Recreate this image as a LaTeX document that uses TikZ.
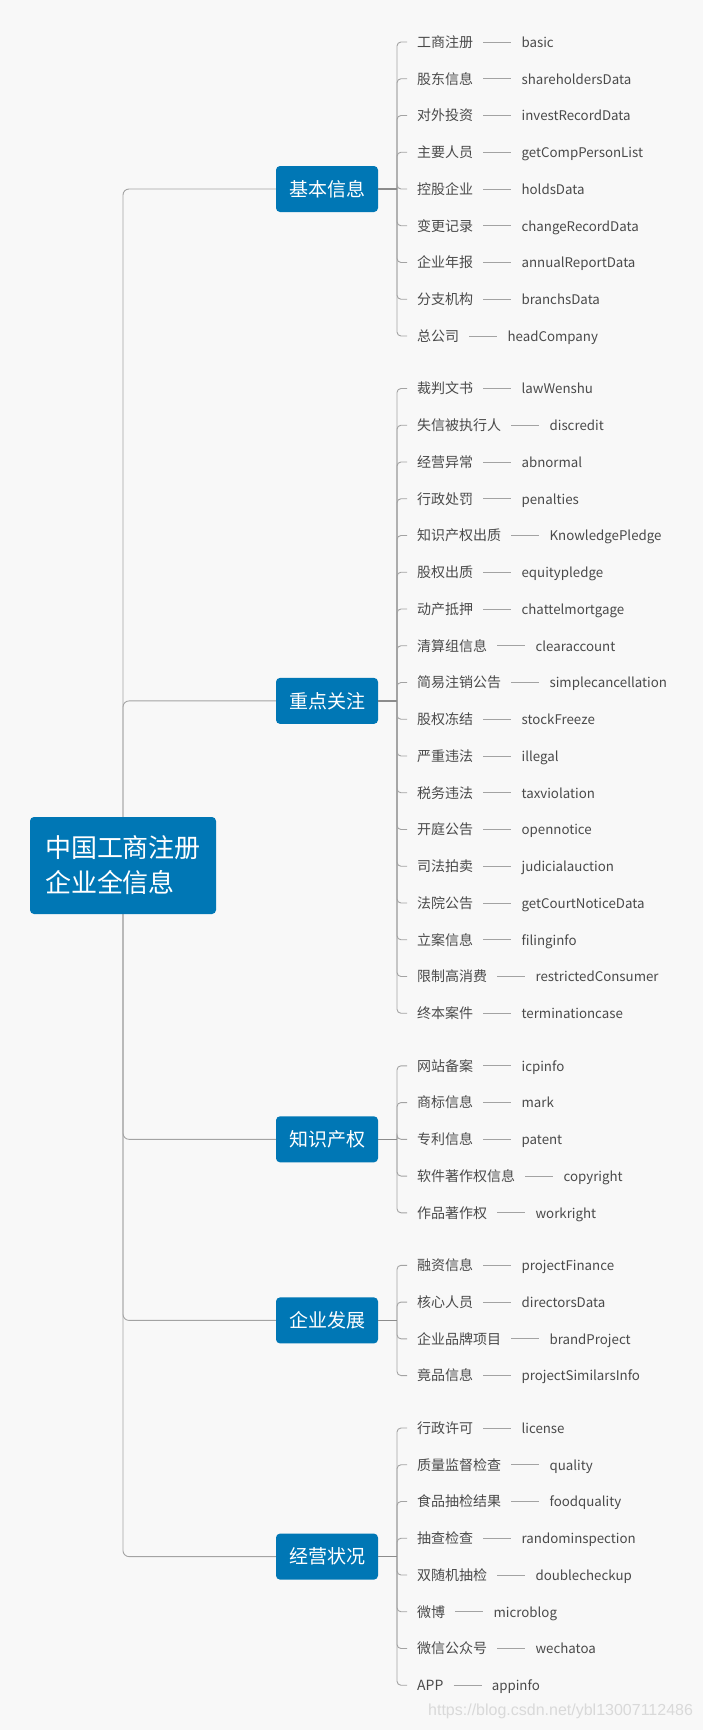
\documentclass[tikz,border=0pt]{standalone}
\usepackage{fontspec}
\setmainfont{Noto Sans CJK SC}
\newfontfamily\markfont{Liberation Sans}
\usetikzlibrary{positioning}
\definecolor{boxblue}{HTML}{0077B5}
\definecolor{linegray}{HTML}{A3A3A3}
\definecolor{linkgray}{HTML}{8C8C8C}
\definecolor{leaftext}{HTML}{4A4A4A}
\definecolor{pagebg}{HTML}{F8F8F8}

\begin{document}
\begin{tikzpicture}[x=1pt, y=-1pt]
  \tikzstyle{root}=[rectangle, rounded corners=4pt, fill=boxblue, text=white, align=left, inner sep=0pt, minimum width=186pt, minimum height=97pt, font=\fontsize{26}{35}\selectfont]
  \tikzstyle{topic}=[rectangle, rounded corners=4pt, fill=boxblue, text=white, inner sep=0pt, minimum width=102pt, minimum height=46pt, text height=16.7pt, text depth=2.3pt, font=\fontsize{19}{22}\selectfont]
  \tikzstyle{leaf}=[anchor=west, inner xsep=10pt, inner ysep=0pt, text=leaftext, text height=12.5pt, text depth=2pt, font=\fontsize{14}{16}\selectfont]
  \tikzstyle{api}=[leaf, font=\fontsize{13.3}{16}\selectfont]
  \tikzstyle{line}=[draw=linegray, line width=0.9pt]
  \tikzstyle{link}=[draw=linkgray, line width=1.6pt]

  \fill[pagebg] (0,0) rectangle (703,1730);
  \useasboundingbox (0,0) rectangle (703,1730);

  % topics
  \node[topic] (jiben) at (327,189) {基本信息};
  \node[topic] (zhongdian) at (327,700.9) {重点关注};
  \node[topic] (zhishi) at (327,1139.3) {知识产权};
  \node[topic] (fazhan) at (327,1320.4) {企业发展};
  \node[topic] (jingying) at (327,1556.6) {经营状况};

  % 基本信息
  \coordinate (jiben-brk) at (397,189);
  \foreach \zh/\api [count=\i] in {工商注册/basic, 股东信息/shareholdersData, 对外投资/investRecordData, 主要人员/getCompPersonList, 控股企业/holdsData, 变更记录/changeRecordData, 企业年报/annualReportData, 分支机构/branchsData, 总公司/headCompany} {
    \node[leaf] (jiben-\i) at (407,{42+(\i-1)*36.75}) {\zh};
    \node[api, right=28pt of jiben-\i] (jiben-\i-api) {\api};
    \draw[line] (jiben-\i.east) -- (jiben-\i-api.west);
    \draw[line, rounded corners=4pt] (jiben-brk) |- (jiben-\i.west);
  }
  \draw[link] (jiben.east) -- (jiben-brk);

  % 重点关注
  \coordinate (zhongdian-brk) at (397,700.9);
  \foreach \zh/\api [count=\i] in {裁判文书/lawWenshu, 失信被执行人/discredit, 经营异常/abnormal, 行政处罚/penalties, 知识产权出质/KnowledgePledge, 股权出质/equitypledge, 动产抵押/chattelmortgage, 清算组信息/clearaccount, 简易注销公告/simplecancellation, 股权冻结/stockFreeze, 严重违法/illegal, 税务违法/taxviolation, 开庭公告/opennotice, 司法拍卖/judicialauction, 法院公告/getCourtNoticeData, 立案信息/filinginfo, 限制高消费/restrictedConsumer, 终本案件/terminationcase} {
    \node[leaf] (zhongdian-\i) at (407,{388.5+(\i-1)*36.75}) {\zh};
    \node[api, right=28pt of zhongdian-\i] (zhongdian-\i-api) {\api};
    \draw[line] (zhongdian-\i.east) -- (zhongdian-\i-api.west);
    \draw[line, rounded corners=4pt] (zhongdian-brk) |- (zhongdian-\i.west);
  }
  \draw[link] (zhongdian.east) -- (zhongdian-brk);

  % 知识产权
  \coordinate (zhishi-brk) at (397,1139.3);
  \foreach \zh/\api [count=\i] in {网站备案/icpinfo, 商标信息/mark, 专利信息/patent, 软件著作权信息/copyright, 作品著作权/workright} {
    \node[leaf] (zhishi-\i) at (407,{1065.8+(\i-1)*36.75}) {\zh};
    \node[api, right=28pt of zhishi-\i] (zhishi-\i-api) {\api};
    \draw[line] (zhishi-\i.east) -- (zhishi-\i-api.west);
    \draw[line, rounded corners=4pt] (zhishi-brk) |- (zhishi-\i.west);
  }
  \draw[link] (zhishi.east) -- (zhishi-brk);

  % 企业发展
  \coordinate (fazhan-brk) at (397,1320.4);
  \foreach \zh/\api [count=\i] in {融资信息/projectFinance, 核心人员/directorsData, 企业品牌项目/brandProject, 竟品信息/projectSimilarsInfo} {
    \node[leaf] (fazhan-\i) at (407,{1265.3+(\i-1)*36.75}) {\zh};
    \node[api, right=28pt of fazhan-\i] (fazhan-\i-api) {\api};
    \draw[line] (fazhan-\i.east) -- (fazhan-\i-api.west);
    \draw[line, rounded corners=4pt] (fazhan-brk) |- (fazhan-\i.west);
  }
  \draw[link] (fazhan.east) -- (fazhan-brk);

  % 经营状况
  \coordinate (jingying-brk) at (397,1556.6);
  \foreach \zh/\api [count=\i] in {行政许可/license, 质量监督检查/quality, 食品抽检结果/foodquality, 抽查检查/randominspection, 双随机抽检/doublecheckup, 微博/microblog, 微信公众号/wechatoa, APP/appinfo} {
    \node[leaf] (jingying-\i) at (407,{1428+(\i-1)*36.75}) {\zh};
    \node[api, right=28pt of jingying-\i] (jingying-\i-api) {\api};
    \draw[line] (jingying-\i.east) -- (jingying-\i-api.west);
    \draw[line, rounded corners=4pt] (jingying-brk) |- (jingying-\i.west);
  }
  \draw[link] (jingying.east) -- (jingying-brk);

  % trunk, root box on top
  \coordinate (rootc) at (123,865.5);
  \draw[line, rounded corners=6pt] (rootc) |- (jiben.west);
  \draw[line, rounded corners=6pt] (rootc) |- (zhongdian.west);
  \draw[line, rounded corners=6pt] (rootc) |- (zhishi.west);
  \draw[line, rounded corners=6pt] (rootc) |- (fazhan.west);
  \draw[line, rounded corners=6pt] (rootc) |- (jingying.west);
  \node[root] (root) at (rootc) {中国工商注册\\企业全信息};

  \node[anchor=west, inner sep=0pt, text=gray!30, font=\markfont\fontsize{16}{18}\selectfont] (watermark) at (428,1711) {https://blog.csdn.net/ybl13007112486};
\end{tikzpicture}
\end{document}
